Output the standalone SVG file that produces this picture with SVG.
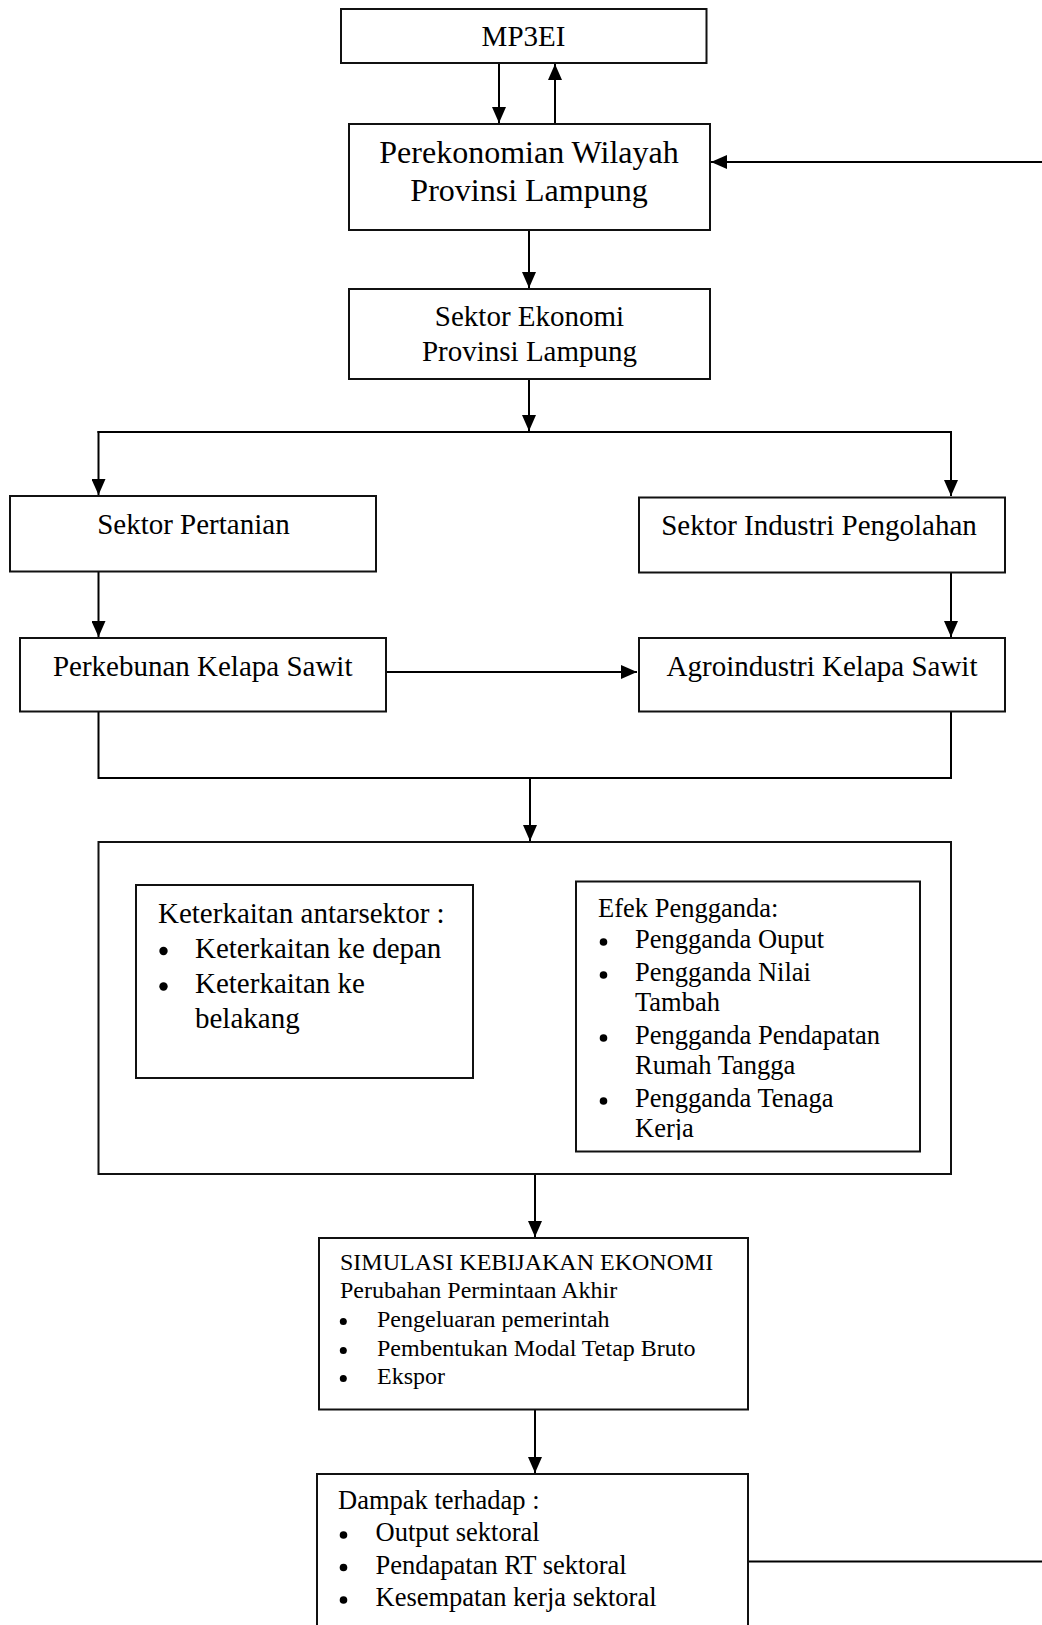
<svg xmlns="http://www.w3.org/2000/svg" width="1042" height="1625" viewBox="0 0 1042 1625">
<style>
.box{fill:#fff;stroke:#111;stroke-width:2}
.ln{fill:none;stroke:#000;stroke-width:2}
.t{font-family:"Liberation Serif","Times New Roman",serif;fill:#000}
.c{text-anchor:middle;font-size:29px}
.b{fill:#000}
</style>
<defs>
<marker id="ah" markerUnits="userSpaceOnUse" markerWidth="16" markerHeight="14" refX="16" refY="7" orient="auto">
<path d="M0,0 L16,7 L0,14 Z" fill="#000"/>
</marker>
<clipPath id="efClip"><rect x="576" y="881" width="344" height="259"/></clipPath>
</defs>
<rect width="1042" height="1625" fill="#fff"/>

<g id="connectors">
<line class="ln" x1="499" y1="63" x2="499" y2="123" marker-end="url(#ah)"/>
<line class="ln" x1="555" y1="124" x2="555" y2="64" marker-end="url(#ah)"/>
<line class="ln" x1="1045" y1="162" x2="711" y2="162" marker-end="url(#ah)"/>
<line class="ln" x1="529" y1="230" x2="529" y2="288" marker-end="url(#ah)"/>
<line class="ln" x1="529" y1="379" x2="529" y2="431" marker-end="url(#ah)"/>
<line class="ln" x1="97.5" y1="432" x2="952" y2="432"/>
<line class="ln" x1="98.5" y1="431" x2="98.5" y2="495" marker-end="url(#ah)"/>
<line class="ln" x1="951" y1="431" x2="951" y2="496" marker-end="url(#ah)"/>
<line class="ln" x1="98.5" y1="572" x2="98.5" y2="637" marker-end="url(#ah)"/>
<line class="ln" x1="951" y1="573" x2="951" y2="637" marker-end="url(#ah)"/>
<line class="ln" x1="386" y1="672" x2="637" y2="672" marker-end="url(#ah)"/>
<polyline class="ln" points="98.5,712 98.5,778 951,778 951,712"/>
<line class="ln" x1="530" y1="778" x2="530" y2="841" marker-end="url(#ah)"/>
<line class="ln" x1="287" y1="843" x2="287" y2="884" marker-end="url(#ah)"/>
<line class="ln" x1="749" y1="843" x2="749" y2="880" marker-end="url(#ah)"/>
<line class="ln" x1="535" y1="1174" x2="535" y2="1237" marker-end="url(#ah)"/>
<line class="ln" x1="535" y1="1410" x2="535" y2="1473" marker-end="url(#ah)"/>
<line class="ln" x1="748" y1="1561.5" x2="1045" y2="1561.5"/>
</g>

<g id="mp3ei">
<rect class="box" x="341" y="9" width="365.5" height="54"/>
<text class="t c" x="523.5" y="46">MP3EI</text>
</g>

<g id="perekonomian">
<rect class="box" x="349" y="124" width="361" height="106"/>
<text class="t" text-anchor="middle" font-size="32" x="529" y="163">Perekonomian Wilayah</text>
<text class="t" text-anchor="middle" font-size="32" x="529" y="201">Provinsi Lampung</text>
</g>

<g id="sektor-ekonomi">
<rect class="box" x="349" y="289" width="361" height="90"/>
<text class="t c" x="529.5" y="326">Sektor Ekonomi</text>
<text class="t c" x="529.5" y="361">Provinsi Lampung</text>
</g>

<g id="sektor-pertanian">
<rect class="box" x="10" y="496" width="366" height="75.5"/>
<text class="t c" x="193.4" y="534">Sektor Pertanian</text>
</g>

<g id="sektor-industri">
<rect class="box" x="639" y="497.5" width="366" height="75"/>
<text class="t c" x="819" y="534.5">Sektor Industri Pengolahan</text>
</g>

<g id="perkebunan">
<rect class="box" x="20" y="638" width="366" height="73.5"/>
<text class="t c" x="202.7" y="676">Perkebunan Kelapa Sawit</text>
</g>

<g id="agroindustri">
<rect class="box" x="639" y="638" width="366" height="73.5"/>
<text class="t c" x="822" y="675.5">Agroindustri Kelapa Sawit</text>
</g>

<g id="analisis">
<rect class="box" x="98.5" y="842" width="852.5" height="332"/>
</g>

<g id="keterkaitan">
<rect class="box" x="136" y="885" width="337" height="193"/>
<g class="t" font-size="29">
<text x="158" y="923">Keterkaitan antarsektor :</text>
<text x="195" y="957.5">Keterkaitan ke depan</text>
<text x="195" y="993">Keterkaitan ke</text>
<text x="195" y="1028">belakang</text>
</g>
<circle class="b" cx="163.5" cy="951" r="4.2"/>
<circle class="b" cx="163.5" cy="986.5" r="4.2"/>
</g>

<g id="efek">
<rect class="box" x="576" y="881.5" width="344" height="270"/>
<g class="t" font-size="26.5" clip-path="url(#efClip)">
<text x="598" y="916.5">Efek Pengganda:</text>
<text x="635" y="948">Pengganda Ouput</text>
<text x="635" y="981">Pengganda Nilai</text>
<text x="635" y="1011">Tambah</text>
<text x="635" y="1044">Pengganda Pendapatan</text>
<text x="635" y="1074">Rumah Tangga</text>
<text x="635" y="1107">Pengganda Tenaga</text>
<text x="635" y="1137">Kerja</text>
</g>
<circle class="b" cx="603.5" cy="942" r="3.8"/>
<circle class="b" cx="603.5" cy="975" r="3.8"/>
<circle class="b" cx="603.5" cy="1038" r="3.8"/>
<circle class="b" cx="603.5" cy="1101" r="3.8"/>
</g>

<g id="simulasi">
<rect class="box" x="319" y="1238" width="429" height="171.5"/>
<g class="t" font-size="24">
<text x="340" y="1270">SIMULASI KEBIJAKAN EKONOMI</text>
<text x="340" y="1298">Perubahan Permintaan Akhir</text>
<text x="377" y="1327">Pengeluaran pemerintah</text>
<text x="377" y="1356">Pembentukan Modal Tetap Bruto</text>
<text x="377" y="1384">Ekspor</text>
</g>
<circle class="b" cx="343.3" cy="1321.5" r="3.5"/>
<circle class="b" cx="343.3" cy="1350.5" r="3.5"/>
<circle class="b" cx="343.3" cy="1378.5" r="3.5"/>
</g>

<g id="dampak">
<rect class="box" x="317" y="1474" width="431" height="200"/>
<g class="t" font-size="26.5">
<text x="338" y="1508.5">Dampak terhadap :</text>
<text x="375.5" y="1541">Output sektoral</text>
<text x="375.5" y="1573.5">Pendapatan RT sektoral</text>
<text x="375.5" y="1606">Kesempatan kerja sektoral</text>
</g>
<circle class="b" cx="343.5" cy="1535" r="3.8"/>
<circle class="b" cx="343.5" cy="1567.5" r="3.8"/>
<circle class="b" cx="343.5" cy="1600" r="3.8"/>
</g>
</svg>
